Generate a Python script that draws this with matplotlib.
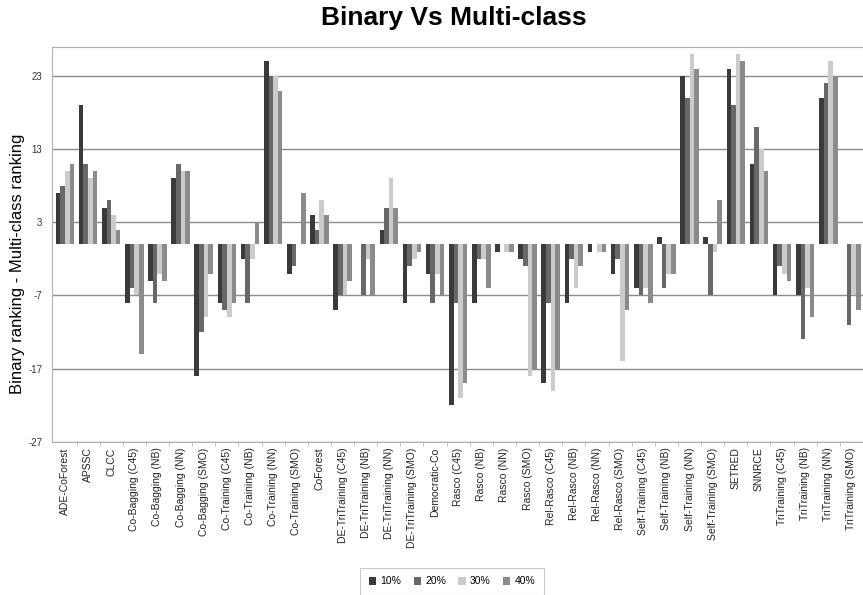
import numpy as np
import matplotlib
matplotlib.use("Agg")
import matplotlib.pyplot as plt

plt.rcParams['font.family'] = ['Liberation Sans', 'DejaVu Sans']

# methods on the x axis
methods = [
    "ADE-CoForest", "APSSC", "CLCC",
    "Co-Bagging (C45)", "Co-Bagging (NB)", "Co-Bagging (NN)", "Co-Bagging (SMO)",
    "Co-Training (C45)", "Co-Training (NB)", "Co-Training (NN)", "Co-Training (SMO)",
    "CoForest",
    "DE-TriTraining (C45)", "DE-TriTraining (NB)", "DE-TriTraining (NN)", "DE-TriTraining (SMO)",
    "Democratic-Co",
    "Rasco (C45)", "Rasco (NB)", "Rasco (NN)", "Rasco (SMO)",
    "Rel-Rasco (C45)", "Rel-Rasco (NB)", "Rel-Rasco (NN)", "Rel-Rasco (SMO)",
    "Self-Training (C45)", "Self-Training (NB)", "Self-Training (NN)", "Self-Training (SMO)",
    "SETRED", "SNNRCE",
    "TriTraining (C45)", "TriTraining (NB)", "TriTraining (NN)", "TriTraining (SMO)",
]

# binary ranking minus multi-class ranking, per labelled ratio
r10 = [7, 19, 5, -8, -5, 9, -18, -8, -2, 25, -4, 4, -9, 0, 2, -8, -4,
       -22, -8, -1, -2, -19, -8, -1, -4, -6, 1, 23, 1, 24, 11, -7, -7, 20, 0]
r20 = [8, 11, 6, -6, -8, 11, -12, -9, -8, 23, -3, 2, -7, -7, 5, -3, -8,
       -8, -2, 0, -3, -8, -2, 0, -2, -7, -6, 20, -7, 19, 16, -3, -13, 22, -11]
r30 = [10, 9, 4, -7, -4, 10, -10, -10, -2, 23, 0, 6, -7, -2, 9, -2, -4,
       -21, -2, -1, -18, -20, -6, -1, -16, -6, -4, 26, -1, 26, 13, -4, -6, 25, -7]
r40 = [11, 10, 2, -15, -5, 10, -4, -8, 3, 21, 7, 4, -5, -7, 5, -1, -7,
       -19, -6, -1, -17, -17, -3, -1, -9, -8, -4, 24, 6, 25, 10, -5, -10, 23, -9]

series = [("10%", r10, "#3a3a3a"), ("20%", r20, "#686868"),
          ("30%", r30, "#cbcbcb"), ("40%", r40, "#8b8b8b")]
yticks = [-27, -17, -7, 3, 13, 23]

fig = plt.figure(figsize=(8.63, 5.95), dpi=100)
ax = fig.add_axes([52 / 863, 153.3 / 595, 1 - 52 / 863, 394.9 / 595])

x = np.arange(len(methods))
w = 0.2
for i, (name, vals, col) in enumerate(series):
    ax.bar(x + (i - 1.5) * w, vals, w, color=col, label=name, zorder=3)

ax.set_ylim(-27, 27)
ax.set_xlim(-0.56, len(methods) - 0.65)
ax.set_yticks(yticks)
ax.set_yticklabels([str(t) for t in yticks], fontsize=7, color="#333333")
ax.yaxis.grid(True, color="#8c8c8c", linewidth=1, zorder=0)
ax.tick_params(axis="y", length=0, pad=7)

ax.set_xticks(x)
ax.set_xticklabels(methods, rotation=90, fontsize=7.5, color="#222222")
ax.set_xticks(np.arange(len(methods)) + 0.5, minor=True)
ax.tick_params(axis="x", which="major", length=0, pad=4)
ax.tick_params(axis="x", which="minor", length=3, color="#bbbbbb")

for s in ["left", "bottom", "top"]:
    ax.spines[s].set_color("#b0b0b0")
ax.spines["right"].set_visible(False)

ax.set_ylabel("Binary ranking - Multi-class ranking", fontsize=12)
ax.yaxis.set_label_coords(-0.033, 0.45)
fig.suptitle("Binary Vs Multi-class", fontsize=19, fontweight="bold",
             y=0.99, x=454 / 863)

leg = fig.legend(loc="center", bbox_to_anchor=(452 / 863, 1 - 581.5 / 595), ncol=4,
                 fontsize=7.5, frameon=True, fancybox=False, handlelength=0.7,
                 handleheight=0.7, columnspacing=1.2, handletextpad=0.4,
                 borderpad=0.8)
leg.get_frame().set_edgecolor("#bbbbbb")
leg.get_frame().set_linewidth(0.8)

plt.savefig("out.png", dpi=100)
plt.close()
